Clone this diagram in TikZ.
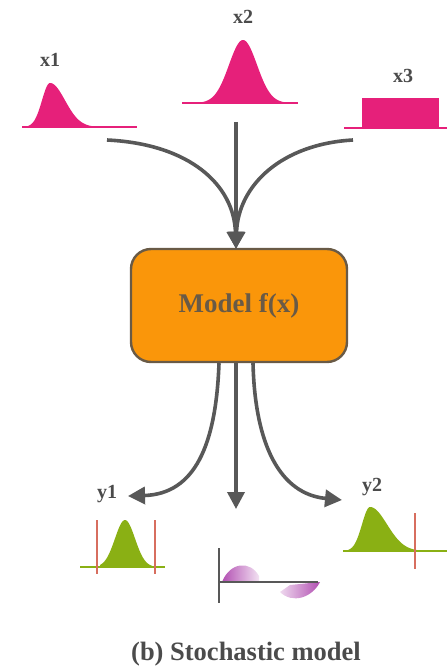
\documentclass[tikz,border=0pt]{standalone}
\usepackage{fontspec}
\setmainfont{Liberation Serif}
\usetikzlibrary{arrows.meta}
\definecolor{pinkd}{RGB}{230,32,122}
\definecolor{greend}{RGB}{138,176,20}
\definecolor{redl}{RGB}{215,110,95}
\definecolor{arrowgray}{RGB}{88,88,88}
\definecolor{boxfill}{RGB}{250,150,10}
\definecolor{boxline}{RGB}{105,90,70}
\definecolor{txtgray}{RGB}{75,75,75}
\definecolor{purpled}{RGB}{170,60,170}
\begin{document}
\begin{tikzpicture}[x=1pt,y=-1pt,
  arr/.style={draw=arrowgray,line width=3.6pt,-{Triangle[length=17pt,width=17pt]}},
  lbl/.style={font=\fontsize{20}{24}\selectfont\bfseries,text=txtgray},
  base/.style={line width=2.6pt,line cap=butt},
  vline/.style={draw=redl,line width=2pt}]
\useasboundingbox (0,0) rectangle (447,671);

% ---- input distributions ----
% x1 (skewed)
\fill[pinkd] (28,127) -- plot[domain=28:50,samples=40] (\x,{127-44*exp(-0.5*pow((\x-50)/8,2))})
  -- plot[domain=50:100,samples=60] (\x,{127-44*exp(-0.5*pow((\x-50)/15,2))}) -- (100,127) -- cycle;
\draw[pinkd,base] (22,127) -- (137,127);
\node[lbl] (lx1) at (50,60) {x1};
% x2 (gaussian)
\fill[pinkd] (198,103) -- plot[domain=198:288,samples=80] (\x,{103-63*exp(-0.5*pow((\x-243)/14,2))}) -- (288,103) -- cycle;
\draw[pinkd,base] (182,103) -- (298,103);
\node[lbl] (lx2) at (243,17) {x2};
% x3 (uniform)
\fill[pinkd] (362,98) rectangle (439,128);
\draw[pinkd,base] (344,128) -- (447,128);
\node[lbl] (lx3) at (403,76) {x3};

\coordinate (x1out) at (107,140);
\coordinate (x2out) at (236,122);
\coordinate (x3out) at (353,140);

% ---- model ----
\node[draw=boxline,line width=2.4pt,fill=boxfill,rounded corners=20pt,
      minimum width=216pt,minimum height=113pt,
      font=\fontsize{27}{30}\selectfont\bfseries,text=boxline] (model) at (239,305.5) {Model f(x)};

\draw[arr] (x1out) .. controls (190,144) and (234,185) .. ([xshift=-3pt,yshift=-1pt]model.north);
\draw[arr] (x3out) .. controls (282,144) and (238,185) .. ([xshift=-3pt,yshift=-1pt]model.north);
\draw[arr] (x2out) -- ([xshift=-3pt,yshift=-1pt]model.north);

% ---- outputs ----
\coordinate (y1in) at (128,496);
\coordinate (zin) at (236,509);
\coordinate (y2in) at (342,500);
\draw[arr] ([xshift=-20pt]model.south) .. controls (216,445) and (195,494) .. (y1in);
\draw[arr] ([xshift=-3pt]model.south) -- (zin);
\draw[arr] ([xshift=14pt]model.south) .. controls (255,445) and (280,494) .. (y2in);

% y1
\fill[greend] (100,567) -- plot[domain=100:152,samples=60] (\x,{567-47*exp(-0.5*pow((\x-125)/10,2))}) -- (152,567) -- cycle;
\draw[greend,base] (80,567) -- (165,567);
\draw[vline] (97,520) -- (97,574);
\draw[vline] (155,520) -- (155,574);
\node[lbl] (ly1) at (107,494) {y1};

% y2
\fill[greend] (346,551) -- plot[domain=346:370,samples=40] (\x,{551-44*exp(-0.5*pow((\x-370)/8,2))})
  -- plot[domain=370:418,samples=60] (\x,{551-44*exp(-0.5*pow((\x-370)/17,2))}) -- (418,551) -- cycle;
\draw[greend,base] (343,551) -- (447,551);
\draw[vline] (415,513) -- (415,569);
\node[lbl] (ly2) at (372,487) {y2};

% centre (degenerate) output
\shade[left color=purpled!90,right color=purpled!15]
  (222,582) .. controls (230,562) and (250,560) .. (259,576) -- (259,582) -- cycle;
\shade[left color=purpled!20,right color=purpled!90]
  (280,592) .. controls (292,604) and (312,598) .. (320,582) -- (290,585) -- cycle;
\draw[arrowgray,line width=2.2pt] (219,548) -- (219,603);
\draw[arrowgray,line width=2pt] (219,582) -- (318,582);

% caption
\node[font=\fontsize{26.5}{30}\selectfont\bfseries,text=txtgray] (cap) at (246,654) {(b) Stochastic model};
\end{tikzpicture}
\end{document}
